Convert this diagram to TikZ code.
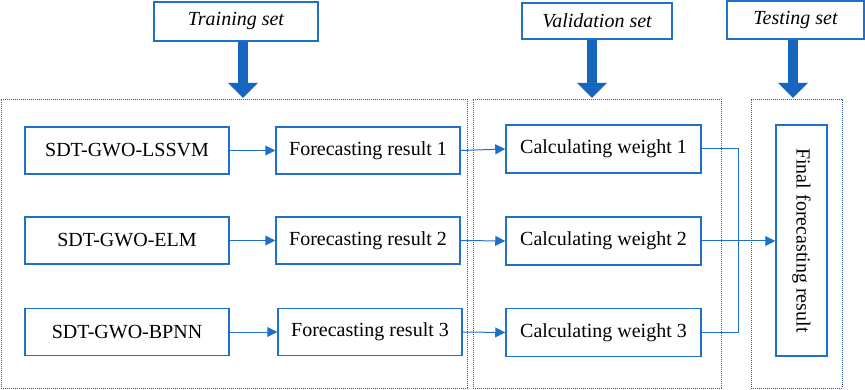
\documentclass[tikz,border=0pt]{standalone}
\usepackage{fontspec}
\setmainfont{Liberation Serif}
\usetikzlibrary{arrows.meta}
\definecolor{boxblue}{RGB}{30,112,200}
\definecolor{bigblue}{RGB}{22,102,192}
\definecolor{dotblue}{RGB}{45,85,150}
\begin{document}
\begin{tikzpicture}[x=1pt,y=-1pt,
  every node/.style={font=\fontsize{20}{24}\selectfont, inner sep=0pt},
  blockbox/.style={draw=boxblue, line width=1.5pt, fill=white, minimum height=47pt},
  setbox/.style={draw=boxblue, line width=1.5pt, fill=white, font=\fontsize{20}{24}\selectfont\itshape},
  groupbox/.style={draw=dotblue, line width=0.9pt, dash pattern=on 0.9pt off 1.1pt},
  conn/.style={draw=boxblue, line width=1pt, -{Triangle[width=10pt,length=10pt]}},
  plainconn/.style={draw=boxblue, line width=1pt},
  bigarrow/.style={draw=bigblue, line width=10pt, -{Triangle[width=29pt,length=15pt]}}
]
\useasboundingbox (0,0) rectangle (865,390);
% group boxes
\node[groupbox, minimum width=466pt, minimum height=289pt] (g1) at (234,243.5) {};
\node[groupbox, minimum width=248pt, minimum height=289pt] (g2) at (597,243.5) {};
\node[groupbox, minimum width=91pt, minimum height=289pt] (g3) at (796.5,243.5) {};
% set boxes
\node[setbox, minimum width=164pt, minimum height=39pt] (train) at (236,21.5) {Training set};
\node[setbox, minimum width=150pt, minimum height=36pt] (val) at (597,21) {Validation set};
\node[setbox, minimum width=137pt, minimum height=38pt] (test) at (795.5,20) {Testing set};
\coordinate (ta) at (243,98);
\coordinate (va) at (592,98);
\coordinate (tea) at (793,98);
\draw[bigarrow] (train.south -| ta) -- (ta);
\draw[bigarrow] (val.south -| va) -- (va);
\draw[bigarrow] (test.south -| tea) -- (tea);
% model boxes
\node[blockbox, minimum width=204pt] (m1) at (127,150.5) {SDT-GWO-LSSVM};
\node[blockbox, minimum width=204pt] (m2) at (127,240.5) {SDT-GWO-ELM};
\node[blockbox, minimum width=204pt] (m3) at (127,332) {SDT-GWO-BPNN};
\node[blockbox, minimum width=184pt] (f1) at (368,150.5) {Forecasting result 1};
\node[blockbox, minimum width=184pt] (f2) at (368,240.5) {Forecasting result 2};
\node[blockbox, minimum width=184pt] (f3) at (370,332) {Forecasting result 3};
\node[blockbox, minimum width=195pt, minimum height=48pt] (c1) at (603.5,149) {Calculating weight 1};
\node[blockbox, minimum width=195pt, minimum height=48pt] (c2) at (603.5,241) {Calculating weight 2};
\node[blockbox, minimum width=195pt, minimum height=48pt] (c3) at (603.5,332.5) {Calculating weight 3};
\node[blockbox, minimum width=51pt, minimum height=231pt] (fin) at (801.5,240.5) {\rotatebox{-90}{Final forecasting result}};
% connectors
\draw[conn] (m1) -- (f1);
\draw[conn] (m2) -- (f2);
\draw[conn] (m3) -- (f3);
\draw[conn] (f1.east) -- (c1.west);
\draw[conn] (f2.east) -- (c2.west);
\draw[conn] (f3.east) -- (c3.west);
\coordinate (j1) at (738,149);
\coordinate (j3) at (738,332.5);
\draw[plainconn] (c1.east) -- (j1) -- (j3) -- (c3.east);
\draw[conn] (c2.east) -- (fin.west |- c2.east);
\end{tikzpicture}
\end{document}
